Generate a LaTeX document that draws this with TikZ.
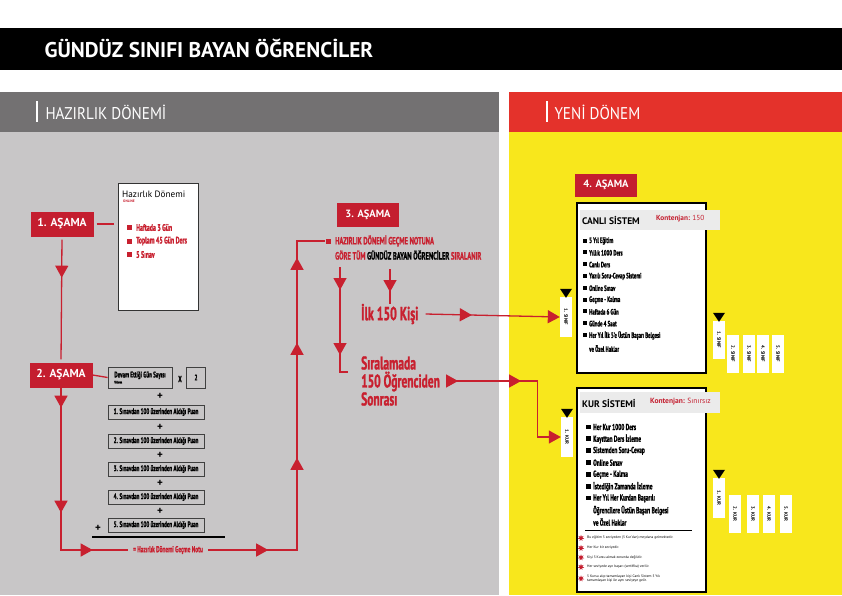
\documentclass[tikz,border=0pt]{standalone}
\usepackage{fontspec}
\setmainfont{PT Sans}
\newfontfamily\condfont[FakeStretch=0.62, BoldFeatures={FakeBold=1.2}]{PT Sans}
\newfontfamily\thinfont[FakeStretch=0.89]{PT Sans}
\usepackage{xcolor}
\usetikzlibrary{arrows.meta,decorations.markings,shapes.geometric,positioning}

\definecolor{boxred}{HTML}{C41E2F}
\definecolor{linered}{HTML}{C8202F}
\definecolor{headred}{HTML}{E4322B}
\definecolor{headgray}{HTML}{737172}
\definecolor{panelgray}{HTML}{C8C6C7}
\definecolor{panelyel}{HTML}{F8E71C}
\definecolor{bandgray}{HTML}{EBEBEB}

\begin{document}
\begin{tikzpicture}[x=1pt,y=-1pt,
  stage/.style={fill=boxred, text=white, font=\bfseries\fontsize{11.5}{12}\selectfont, minimum width=63pt, minimum height=25pt, inner sep=0pt},
  link/.style={draw=linered, color=linered, line width=1.3pt},
  tri/.style={postaction={decorate,decoration={markings,mark=at position #1 with {\arrow[linered]{Triangle[length=12pt,width=13pt]}}}}},
  endtri/.style={-{Triangle[length=12pt,width=13pt]}},
  calcbox/.style={draw=black!75, line width=0.8pt, inner sep=1pt, font=\condfont\bfseries\fontsize{8.2}{9}\selectfont},
  card/.style={draw=black, fill=white, line width=1.2pt, inner sep=0pt},
  item/.style={anchor=west, inner sep=0pt, font=\condfont\bfseries\fontsize{8.7}{9}\selectfont},
  tab/.style={fill=white, rotate=-90, font=\bfseries\fontsize{4.8}{5}\selectfont, minimum height=12pt, inner sep=0pt},
  note/.style={anchor=west, inner sep=0pt, align=left, font=\fontsize{3.6}{4.2}\selectfont}
]
% Background
\fill[white] (0,0) rectangle (842,595);
\fill[black] (0,28) rectangle (842,70);
\node[anchor=west, text=white, font=\bfseries\fontsize{21.3}{22}\selectfont] (title) at (41,48) {GÜNDÜZ SINIFI BAYAN ÖĞRENCİLER};
\fill[headgray] (0,92) rectangle (499,132);
\fill[panelgray] (0,132) rectangle (499,595);
\fill[headred] (509,92) rectangle (842,132);
\fill[panelyel] (509,132) rectangle (842,595);
\draw[white, line width=1.2pt] (37,101) -- (37,122);
\node[anchor=west, text=white, font=\thinfont\fontsize{17}{18}\selectfont] (hazhead) at (42,112) {HAZIRLIK DÖNEMİ};
\draw[white, line width=1.2pt] (547,101) -- (547,122);
\node[anchor=west, text=white, font=\thinfont\fontsize{17}{18}\selectfont] (yenihead) at (551,112) {YENİ DÖNEM};

% Stage 1
\node[stage] (s1) at (62,224) {1. AŞAMA};
\node[draw=black!80, fill=white, line width=1pt, minimum width=80pt, minimum height=127pt, inner sep=0pt] (hazbox) at (158,246.5) {};
\node[anchor=west, inner sep=0pt, font=\fontsize{9.2}{10}\selectfont] (haztitle) at (122,194) {Hazırlık Dönemi};
\node[anchor=west, inner sep=0pt, text=linered, font=\bfseries\fontsize{3.5}{4}\selectfont] (online) at (123,201.5) {ONLINE};
\foreach \t [count=\i] in {Haftada 3 Gün, Toplam 45 Gün Ders, 5 Sınav} {
  \fill[linered] (127,{225+(\i-1)*13.5}) rectangle ++(5,5);
  \node[anchor=west, inner sep=0pt, text=linered, font=\condfont\bfseries\fontsize{9.5}{10}\selectfont] (haz\i) at (136,{227.5+(\i-1)*13.5}) {\t};
}
\draw[link, shorten >=4pt, shorten <=3pt] (s1.east) -- (s1.east -| hazbox.west);

% Stage 2
\node[stage] (s2) at (61,375) {2. AŞAMA};
\draw[link, shorten <=3pt, shorten >=3pt, tri=41pt] (s1.south) -- (s2.north);
\node[calcbox, minimum width=64pt, minimum height=21pt, align=left] (devam) at (140,377.5) {Devam Ettiği Gün Sayısı\\[-3pt]{\fontsize{3.5}{4}\selectfont Yoklama}};
\draw[link] (s2.east) -- (devam.west);
\node[font=\condfont\bfseries\fontsize{9}{9}\selectfont] (times) at (180,379) {X};
\node[calcbox, minimum width=19pt, minimum height=21pt] (two) at (196,377.5) {2};
\foreach \n/\y in {1/412,2/441,3/469,4/497,5/525} {
  \node[calcbox, minimum width=96pt, minimum height=14pt] (puan\n) at (156,\y) {\n. Sınavdan 100 üzerinden Aldığı Puan};
}
\foreach \y [count=\i] in {396,427,455,483,511} {
  \node[font=\bfseries\fontsize{11}{11}\selectfont, inner sep=0pt] (plus\i) at (160,\y) {+};
}
\node[font=\bfseries\fontsize{11}{11}\selectfont, inner sep=0pt] (plus6) at (98,528) {+};
\draw[line width=1.8pt] (92,537) -- (225,537);
\node[text=linered, minimum width=80pt, inner xsep=3pt, inner ysep=0pt, font=\condfont\bfseries\fontsize{8.6}{9}\selectfont] (gecme) at (168,550) {= Hazırlık Dönemi Geçme Notu};
\draw[link, tri=20pt, tri=125pt, tri=194pt] (s2.south) |- (gecme.west);
\node[fill=linered, minimum size=5pt, inner sep=0pt] (sq) at (328,241) {};
\coordinate (rise) at (297,550);
\draw[link, tri=60pt, tri=181pt, tri=296pt, tri=381pt] (gecme.east) -- (rise) |- (sq.west);

% Stage 3
\node[stage, font=\bfseries\fontsize{10.5}{11}\selectfont, minimum width=62pt, minimum height=24pt] (s3) at (368,215) {3. AŞAMA};
\node[anchor=west, inner sep=0pt, text=linered, font=\condfont\bfseries\fontsize{10.5}{11}\selectfont] (rank1) at (335,241) {HAZIRLIK DÖNEMİ GEÇME NOTUNA};
\node[anchor=west, inner sep=0pt, text=linered, font=\condfont\bfseries\fontsize{10.5}{11}\selectfont] (rank2) at (335,255) {GÖRE TÜM \textcolor{black}{GÜNDÜZ BAYAN ÖĞRENCİLER} SIRALANIR};
\node[anchor=west, inner sep=0pt, text=linered, font=\condfont\bfseries\fontsize{19}{18}\selectfont] (ilk) at (361,314) {İlk 150 Kişi};
\node[anchor=west, inner sep=0pt, align=left, text=linered, font=\condfont\bfseries\fontsize{18.5}{18}\selectfont] (sira) at (361,381) {Sıralamada\\150 Öğrenciden\\Sonrası};
\coordinate (drop1) at (340,267);
\coordinate (foot) at (348,372);
\draw[link, tri=23pt, tri=88pt] (drop1) |- (foot);
\coordinate (drop2) at (390,269);
\draw[link, tri=23pt] (drop2) -- (drop2 |- ilk.north);

% Stage 4
\node[stage, font=\bfseries\fontsize{10.5}{11}\selectfont, minimum width=62pt, minimum height=23pt] (s4) at (606,185) {4. AŞAMA};

% Canli sistem
\node[card, minimum width=129pt, minimum height=170pt] (canli) at (641.5,288) {};
\fill[bandgray] (580,210) rectangle (720,230);
\node[anchor=west, inner sep=0pt, font=\bfseries\fontsize{9.5}{10}\selectfont] (canlihead) at (582,220) {CANLI SİSTEM};
\node[anchor=west, inner sep=0pt, text=boxred, font=\bfseries\fontsize{7.3}{8}\selectfont] (canliquota) at (656,219) {Kontenjan: \mdseries 150};
\foreach \t [count=\i] in {5 Yıl Eğitim, Yıllık 1000 Ders, Canlı Ders, Yazılı Soru-Cevap Sistemi, Online Sınav, Geçme - Kalma, Haftada 6 Gün, Günde 4 Saat, Her Yıl İlk 5'e Üstün Başarı Belgesi} {
  \fill (583,{238.5+(\i-1)*11.8}) rectangle ++(4,4);
  \node[item, font=\condfont\bfseries\fontsize{7.8}{8}\selectfont] (canli\i) at (589,{241+(\i-1)*11.8}) {\t};
}
\node[item, font=\condfont\bfseries\fontsize{7.8}{8}\selectfont] (canli10) at (589,348.5) {ve Özel Haklar};

% Kur sistemi
\node[card, minimum width=129pt, minimum height=204pt] (kur) at (641.5,490) {};
\fill[bandgray] (580,392) rectangle (720,413);
\node[anchor=west, inner sep=0pt, font=\bfseries\fontsize{9.5}{10}\selectfont] (kurhead) at (582,403) {KUR SİSTEMİ};
\node[anchor=west, inner sep=0pt, text=boxred, font=\bfseries\fontsize{7.5}{8}\selectfont] (kurquota) at (650,402) {Kontenjan: \mdseries Sınırsız};
\foreach \t [count=\i] in {Her Kur 1000 Ders, Kayıttan Ders İzleme, Sistemden Soru-Cevap, Online Sınav, Geçme - Kalma, İstediğin Zamanda İzleme, Her Yıl Her Kurdan Başarılı} {
  \fill (586,{424.5+(\i-1)*11.9}) rectangle ++(4.5,4.5);
  \node[item] (kur\i) at (593,{427+(\i-1)*11.9}) {\t};
}
\node[item] (kur8) at (593,510.5) {Öğrencilere Üstün Başarı Belgesi};
\node[item] (kur9) at (593,522) {ve Özel Haklar};
\draw[line width=0.9pt] (585,530) -- (692,530);
\foreach \t/\y [count=\i] in {{Bu eğitim 5 seviyeden (5 Kur'dan) meydana gelmektedir.}/538, {Her Kur bir seviyedir.}/548, {Kişi 5 Kursu almak zorunda değildir.}/557.5, {Her seviyede ayrı başarı (sertifika) verilir.}/567, {5 Kursu alıp tamamlayan kişi Canlı Sistem 5 Yılı\\tamamlayan kişi ile aynı seviyeye gelir.}/578.5} {
  \node[star, star points=7, star point ratio=2.2, fill=boxred, inner sep=0pt, minimum size=6.5pt] (star\i) at (581,\y) {};
  \node[note] (note\i) at (587,\y) {\t};
}

% Tabs
\node[tab, minimum width=40pt] (sinL) at (566,317) {1. SINIF};
\node[tab, minimum width=40pt] (kurL) at (567,437) {1. KUR};
\node[tab, minimum width=38pt] (sin1) at (719,340) {1. SINIF};
\foreach \x [count=\i from 2] in {733,749,763,778} {
  \node[tab, minimum width=38pt] (sin\i) at (\x,354) {\i. SINIF};
}
\node[tab, minimum width=40pt] (kur1) at (719,498) {1. KUR};
\foreach \x [count=\i from 2] in {735,753,769,786} {
  \node[tab, minimum width=38pt] (kur\i) at (\x,514) {\i. KUR};
}
\foreach \n in {sinL,kurL,sin1,kur1} {
  \fill (\n.west) ++(-6,-8) -- ++(12,0) -- ++(-6,9) -- cycle;
}

% Connections
\draw[link, tri=-88pt, endtri] (ilk.east) ++(7,0) -- (sinL.south);
\draw[link, tri=12pt, tri=75pt, endtri] ([xshift=6pt]sira.east) -| ([xshift=-23pt]kurL.south) -- (kurL.south);
\end{tikzpicture}
\end{document}
